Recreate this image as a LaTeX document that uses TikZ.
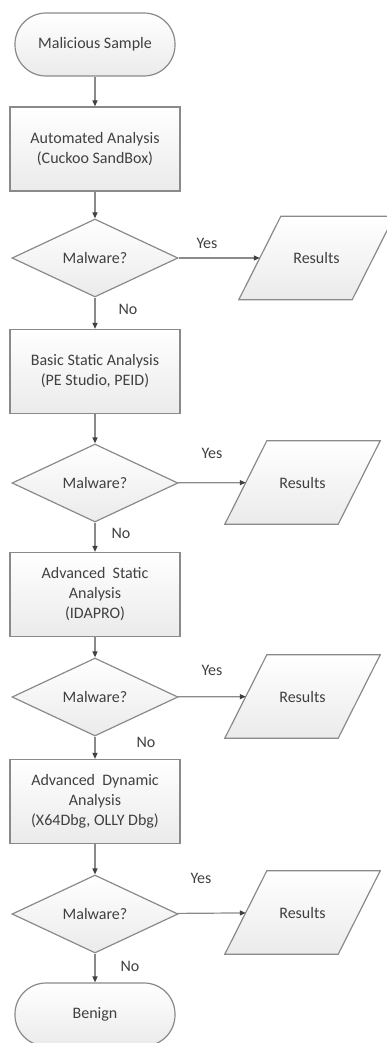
\documentclass[tikz,border=0pt]{standalone}
\usepackage{fontspec}
\setmainfont{Carlito}
\usetikzlibrary{shapes.geometric,arrows.meta,backgrounds}
\definecolor{edgegray}{RGB}{138,138,138}
\definecolor{textgray}{RGB}{64,64,64}

\begin{document}
\begin{tikzpicture}[x=1pt,y=-1pt,>={Triangle[length=6pt,width=5pt,color=textgray]},
    font=\fontsize{16}{20}\selectfont,text=textgray,
    base/.style={draw=edgegray,line width=1.2pt,top color=white,bottom color=black!8,align=center,inner sep=2pt},
    terminal/.style={base,rectangle,rounded corners=31pt,minimum width=160pt,minimum height=63pt},
    process/.style={base,rectangle,minimum width=170pt,minimum height=84pt},
    decision/.style={base,diamond,aspect=2.1,minimum width=166pt,minimum height=78pt},
    results/.style={rectangle,minimum width=113pt,minimum height=83pt},
    slanted/.style={draw=edgegray,line width=1.2pt,top color=white,bottom color=black!8},
    flow/.style={draw=edgegray,line width=1.2pt,->}]
    \useasboundingbox (0,0) rectangle (387,1043);
    \node[terminal] (start) at (95,44.5) {Malicious Sample};
    \node[process] (auto) at (95,149) {Automated Analysis\\(Cuckoo SandBox)};
    \node[decision] (mal1) at (95,258) {Malware?};
    \node[results] (res1) at (316.5,258) {Results};
    \node[process] (basic) at (95,371.5) {Basic Static Analysis\\(PE Studio, PEID)};
    \node[decision] (mal2) at (95,483) {Malware?};
    \node[results] (res2) at (302.5,482.5) {Results};
    \node[process] (advstat) at (95,594.5) {Advanced\ \ Static\\Analysis\\(IDAPRO)};
    \node[decision] (mal3) at (95,697) {Malware?};
    \node[results] (res3) at (302.5,696.5) {Results};
    \node[process] (advdyn) at (95,801.5) {Advanced\ \ Dynamic\\Analysis\\(X64Dbg, OLLY Dbg)};
    \node[decision] (mal4) at (95,914) {Malware?};
    \node[results] (res4) at (302.5,912.5) {Results};
    \node[terminal] (benign) at (95,1014.5) {Benign};
    % parallelograms behind the results text
    \begin{scope}[on background layer]
        \foreach \r in {res1,res2,res3,res4}
            \draw[slanted] ([xshift=-21pt]\r.south west) -- ([xshift=-21pt]\r.south east)
                -- ([xshift=21pt]\r.north east) -- ([xshift=21pt]\r.north west) -- cycle;
    \end{scope}
    % yes / no labels
    \node (yes1) at (207,243) {Yes};
    \node (no1) at (128,309) {No};
    \node (yes2) at (212,453) {Yes};
    \node (no2) at (121,533) {No};
    \node (yes3) at (212,670) {Yes};
    \node (no3) at (146,742) {No};
    \node (yes4) at (201,878) {Yes};
    \node (no4) at (130,966) {No};
    % connectors
    \draw[flow] (start) -- (auto);
    \draw[flow] (auto) -- (mal1);
    \draw[flow] (mal1) -- (res1);
    \draw[flow] (mal1) -- (basic);
    \draw[flow] (basic) -- (mal2);
    \draw[flow] (mal2) -- (res2);
    \draw[flow] (mal2) -- (advstat);
    \draw[flow] (advstat) -- (mal3);
    \draw[flow] (mal3) -- (res3);
    \draw[flow] (mal3) -- (advdyn);
    \draw[flow] (advdyn) -- (mal4);
    \draw[flow] (mal4) -- (res4);
    \draw[flow] (mal4) -- (benign);
\end{tikzpicture}
\end{document}
